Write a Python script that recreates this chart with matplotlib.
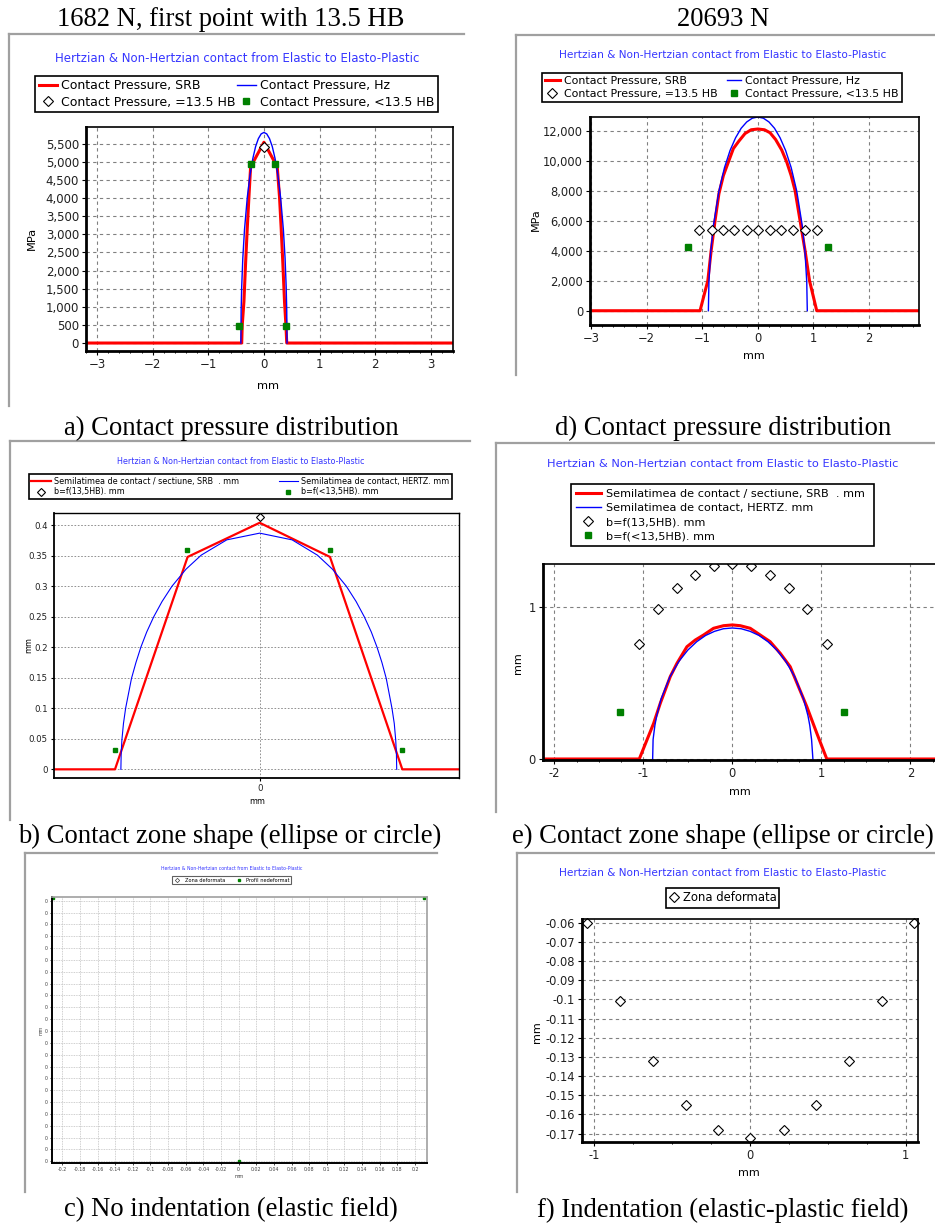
import numpy as np
import matplotlib.pyplot as plt
from matplotlib.lines import Line2D
from matplotlib.ticker import FuncFormatter, MultipleLocator, FixedLocator

plt.rcParams['font.family'] = ['DejaVu Sans']

# ---- a) 1682 N, contact pressure ----
a_srb_x = [-3.2, -0.40, -0.39, -0.36, -0.33, -0.30, -0.27, -0.24, -0.21, 0.0,
           0.21, 0.24, 0.28, 0.31, 0.34, 0.37, 0.395, 0.41, 3.4]
a_srb_y = [0, 0, 500, 1140, 2200, 3160, 4030, 4850, 4940, 5540,
           4940, 4850, 4030, 3160, 2200, 1140, 500, 0, 0]
a_hz_x = [-0.415, -0.41, -0.40, -0.38, -0.35, -0.30, -0.25, -0.20, -0.15, -0.10, -0.05, 0.0,
          0.05, 0.10, 0.15, 0.20, 0.25, 0.30, 0.35, 0.38, 0.40, 0.41, 0.415]
a_hz_y = [0, 900, 1550, 2340, 3120, 4010, 4640, 5090, 5420, 5640, 5770, 5810,
          5770, 5640, 5420, 5090, 4640, 4010, 3120, 2340, 1550, 900, 0]
a_eq_x = [0.0]
a_eq_y = [5400]
a_lt_x = [-0.44, -0.24, 0.20, 0.40]
a_lt_y = [460, 4950, 4950, 460]

# ---- d) 20693 N, contact pressure ----
d_srb_x = [-3.02, -1.04, -0.97, -0.90, -0.84, -0.77, -0.70, -0.62, -0.52, -0.44, -0.34, -0.23,
           -0.12, 0.0, 0.12, 0.22, 0.32, 0.43, 0.52, 0.60, 0.67, 0.76, 0.85, 0.93, 1.06, 2.9]
d_srb_y = [0, 0, 1000, 2000, 4000, 6000, 7800, 9000, 10000, 10800, 11300, 11800,
           12050, 12100, 12050, 11850, 11400, 10700, 9900, 9000, 8000, 6000, 4000, 2000, 0, 0]
d_hz_x = [-0.89, -0.88, -0.85, -0.80, -0.70, -0.60, -0.50, -0.40, -0.30, -0.20, -0.10, 0.0,
          0.10, 0.20, 0.30, 0.40, 0.50, 0.60, 0.70, 0.80, 0.85, 0.88, 0.89]
d_hz_y = [0, 1930, 3820, 5650, 7970, 9530, 10670, 11520, 12150, 12570, 12820, 12900,
          12820, 12570, 12150, 11520, 10670, 9530, 7970, 5650, 3820, 1930, 0]
d_eq_x = [-1.05, -0.83, -0.63, -0.42, -0.20, 0.0, 0.22, 0.42, 0.64, 0.85, 1.06]
d_eq_y = [5400] * 11
d_lt_x = [-1.26, 1.26]
d_lt_y = [4230, 4230]

# ---- b) 1682 N, contact semi-width along the roller ----
b_srb_x = [-1.433, -1.008, -0.502, 0.0, 0.49, 0.994, 1.389]
b_srb_y = [0, 0, 0.348, 0.404, 0.348, 0, 0]
b_hz_x = [-0.967, -0.965, -0.960, -0.949, -0.934, -0.893, -0.862, -0.828, -0.787, -0.738,
          -0.680, -0.611, -0.513, -0.407, -0.229, 0.0,
          0.226, 0.402, 0.507, 0.604, 0.672, 0.729, 0.778, 0.818, 0.852, 0.882,
          0.922, 0.938, 0.948, 0.953, 0.955]
b_hz_y = [0, 0.025, 0.048, 0.075, 0.100, 0.149, 0.175, 0.200, 0.225, 0.250,
          0.275, 0.300, 0.328, 0.351, 0.376, 0.387,
          0.376, 0.351, 0.328, 0.300, 0.275, 0.250, 0.225, 0.200, 0.175, 0.149,
          0.100, 0.075, 0.048, 0.025, 0]
b_eq_x = [0.0]
b_eq_y = [0.413]
b_lt_x = [-1.008, -0.507, 0.49, 0.994]
b_lt_y = [0.0316, 0.3586, 0.3586, 0.0316]

# ---- e) 20693 N, contact semi-width ----
e_srb_x = [-2.13, -1.045, -0.884, -0.809, -0.697, -0.622, -0.510, -0.416, -0.323, -0.211, -0.099,
           0.0, 0.089, 0.201, 0.313, 0.425, 0.538, 0.650, 0.743, 0.837, 0.949, 1.061, 2.45]
e_srb_y = [0, 0, 0.234, 0.366, 0.541, 0.628, 0.737, 0.781, 0.814, 0.858, 0.875,
           0.880, 0.875, 0.858, 0.814, 0.770, 0.694, 0.606, 0.475, 0.343, 0.169, 0, 0]
e_hz_x = [-0.895, -0.89, -0.87, -0.85, -0.80, -0.70, -0.60, -0.50, -0.40, -0.30, -0.20, -0.10, 0.0,
          0.10, 0.20, 0.30, 0.40, 0.50, 0.60, 0.70, 0.80, 0.85, 0.87, 0.89, 0.905]
e_hz_y = [0, 0.128, 0.220, 0.283, 0.394, 0.541, 0.641, 0.715, 0.770, 0.811, 0.838, 0.855, 0.860,
          0.855, 0.838, 0.811, 0.770, 0.715, 0.641, 0.541, 0.394, 0.283, 0.220, 0.128, 0]
e_eq_x = [-1.052, -0.836, -0.622, -0.416, -0.203, 0.0, 0.212, 0.425, 0.631, 0.844, 1.061]
e_eq_y = [0.755, 0.983, 1.125, 1.210, 1.267, 1.280, 1.267, 1.210, 1.125, 0.983, 0.755]
e_lt_x = [-1.258, 1.256]
e_lt_y = [0.311, 0.311]

# ---- c) 1682 N, no indentation (all depths round to 0) ----
c_prof_x = [-0.21, 0.0, 0.21]
c_prof_y = [22.2e-6, 0.0, 22.2e-6]
c_yticks = [i * 1e-6 for i in range(23)]
c_xticks = [round(-0.2 + 0.02 * i, 2) for i in range(21)]

# ---- f) 20693 N, deformed zone ----
f_x = [-1.045, -0.837, -0.623, -0.413, -0.2075, 0.0, 0.218, 0.426, 0.632, 0.848, 1.053]
f_y = [-0.060, -0.101, -0.132, -0.155, -0.168, -0.172, -0.168, -0.155, -0.132, -0.101, -0.060]

W, H = 935, 1224
fig = plt.figure(figsize=(W / 100, H / 100), dpi=100)

RED = '#ff0000'
BLUE = '#0000ff'
GREEN = '#008000'
TBLUE = '#3535ff'
SERIF = 'Liberation Serif'
CAP = 19.2


def box(x0, y0, x1, y1):
    return [x0 / W, 1 - y1 / H, (x1 - x0) / W, (y1 - y0) / H]


def ftext(x, y, s, **kw):
    kw.setdefault('ha', 'center')
    kw.setdefault('va', 'center')
    fig.text(x / W, 1 - y / H, s, **kw)


def frame(x0, x1, y0, y1):
    # grey window edge, top and left only
    fig.add_artist(Line2D([x0 / W, x1 / W], [1 - y0 / H] * 2, color='#a0a0a0', lw=1.6))
    fig.add_artist(Line2D([x0 / W] * 2, [1 - y0 / H, 1 - y1 / H], color='#a0a0a0', lw=1.6))


def style(ax, size, thick=2.0, thin=1.2, tick_len=3):
    for s in ['left', 'bottom']:
        ax.spines[s].set_linewidth(thick)
    for s in ['top', 'right']:
        ax.spines[s].set_linewidth(thin)
    ax.tick_params(labelsize=size, labelcolor='#202020', direction='out',
                   length=tick_len, width=0.8, pad=2)
    ax.tick_params(which='minor', length=tick_len * 0.6, width=0.7, direction='out')
    ax.grid(True, which='major', color='#808080', lw=0.8, ls=(0, (3, 3)))
    ax.set_axisbelow(True)


def legend(ax, handles, b, ncol, size, **kw):
    leg = ax.legend(handles=handles, loc='center', bbox_to_anchor=box(*b),
                    bbox_transform=fig.transFigure, mode='expand', ncol=ncol,
                    fontsize=size, frameon=True, fancybox=False, edgecolor='black',
                    framealpha=1, borderaxespad=0, numpoints=1, **kw)
    leg.get_frame().set_linewidth(1.2)
    return leg


def comma(v, p):
    return f"{v:,.0f}"


def series(ax, srb, hz, eq, lt, lab, ms=5.5, sq=4):
    l1, = ax.plot(srb[0], srb[1], color=RED, lw=2.2, label=lab[0])
    l2, = ax.plot(hz[0], hz[1], color=BLUE, lw=1.0, label=lab[1])
    l3, = ax.plot(eq[0], eq[1], ls='none', marker='D', ms=ms, mfc='white', mec='black',
                  mew=0.8, label=lab[2])
    l4, = ax.plot(lt[0], lt[1], ls='none', marker='s', ms=sq, color=GREEN, mec=GREEN,
                  label=lab[3])
    return l1, l2, l3, l4


TITLE = 'Hertzian & Non-Hertzian contact from Elastic to Elasto-Plastic'
CP = ['Contact Pressure, SRB', 'Contact Pressure, Hz',
      'Contact Pressure, =13.5 HB', 'Contact Pressure, <13.5 HB']
SL = ['Semilatimea de contact / sectiune, SRB  . mm', 'Semilatimea de contact, HERTZ. mm',
      'b=f(13,5HB). mm', 'b=f(<13,5HB). mm']

# ================= panel a =================
frame(9, 464, 34, 406)
ftext(231, 19, '1682 N, first point with 13.5 HB', family=SERIF, fontsize=CAP)
ftext(237, 58, TITLE, color=TBLUE, fontsize=8.5)
ax = fig.add_axes(box(86, 127, 453, 351))
h = series(ax, (a_srb_x, a_srb_y), (a_hz_x, a_hz_y), (a_eq_x, a_eq_y), (a_lt_x, a_lt_y), CP)
ax.set_xlim(-3.2, 3.4)
ax.set_ylim(-220, 5960)
ax.xaxis.set_major_locator(MultipleLocator(1))
ax.xaxis.set_minor_locator(MultipleLocator(0.2))
ax.yaxis.set_major_locator(MultipleLocator(500))
ax.yaxis.set_major_formatter(FuncFormatter(comma))
style(ax, 8.5)
legend(ax, [h[0], h[2], h[1], h[3]], (35, 75, 438, 113), 2, 9.0,
       handlelength=1.45, handletextpad=0.35, columnspacing=1.0, labelspacing=0.25,
       borderpad=0.3)
ftext(32, 238, 'MPa', rotation=90, fontsize=8.2)
ftext(268, 386, 'mm', fontsize=8.2)
ftext(231, 428, 'a) Contact pressure distribution', family=SERIF, fontsize=CAP)

# ================= panel d =================
frame(516, 935, 35, 375)
ftext(723, 19, '20693 N', family=SERIF, fontsize=CAP)
ftext(723, 55, TITLE, color=TBLUE, fontsize=7.6)
ax = fig.add_axes(box(590, 117, 919, 325))
h = series(ax, (d_srb_x, d_srb_y), (d_hz_x, d_hz_y), (d_eq_x, d_eq_y), (d_lt_x, d_lt_y), CP)
ax.set_xlim(-3.02, 2.9)
ax.set_ylim(-950, 12900)
ax.xaxis.set_major_locator(MultipleLocator(1))
ax.xaxis.set_minor_locator(MultipleLocator(0.2))
ax.yaxis.set_major_locator(MultipleLocator(2000))
ax.yaxis.set_major_formatter(FuncFormatter(comma))
style(ax, 8.3)
legend(ax, [h[0], h[2], h[1], h[3]], (542, 70, 902, 105), 2, 7.9,
       handlelength=1.3, handletextpad=0.4, columnspacing=0.5, labelspacing=0.25,
       borderpad=0.3)
ftext(536, 220, 'MPa', rotation=90, fontsize=8)
ftext(754, 356, 'mm', fontsize=8)
ftext(723, 428, 'd) Contact pressure distribution', family=SERIF, fontsize=CAP)

# ================= panel b =================
frame(10, 470, 441, 820)
ftext(241, 462, TITLE, color=TBLUE, fontsize=5.75)
ax = fig.add_axes(box(54, 513, 459, 778))
h = series(ax, (b_srb_x, b_srb_y), (b_hz_x, b_hz_y), (b_eq_x, b_eq_y), (b_lt_x, b_lt_y), SL,
           ms=4.2, sq=3.2)
h[0].set_linewidth(1.6)
h[1].set_linewidth(0.8)
ax.set_xlim(-1.433, 1.389)
ax.set_ylim(-0.0142, 0.42)
ax.xaxis.set_major_locator(FixedLocator([0]))
ax.yaxis.set_major_locator(MultipleLocator(0.05))
ax.yaxis.set_major_formatter(FuncFormatter(lambda v, p: f"{v:g}" if abs(v) > 1e-9 else "0"))
style(ax, 6.2, thick=1.3, thin=1.0, tick_len=2.5)
ax.grid(True, which='major', color='#808080', lw=0.6, ls=(0, (2, 2)))
legend(ax, [h[0], h[2], h[1], h[3]], (29, 473, 452, 500), 2, 5.8,
       handlelength=2.4, handletextpad=0.4, columnspacing=0.4, labelspacing=0.22,
       borderpad=0.3)
ftext(29, 645, 'mm', rotation=90, fontsize=5.8)
ftext(257, 801, 'mm', fontsize=5.8)
ftext(230, 836, 'b) Contact zone shape (ellipse or circle)', family=SERIF, fontsize=CAP)

# ================= panel e =================
frame(496, 935, 443, 812)
ftext(723, 464, TITLE, color=TBLUE, fontsize=8.2)
ax = fig.add_axes(box(542.7, 564, 950, 760))
h = series(ax, (e_srb_x, e_srb_y), (e_hz_x, e_hz_y), (e_eq_x, e_eq_y), (e_lt_x, e_lt_y), SL)
ax.set_xlim(-2.13, 2.445)
ax.set_ylim(-0.0066, 1.28)
ax.xaxis.set_major_locator(MultipleLocator(1))
ax.xaxis.set_minor_locator(MultipleLocator(0.25))
ax.yaxis.set_major_locator(MultipleLocator(1))
ax.xaxis.set_major_formatter(FuncFormatter(lambda v, p: f"{v:.0f}"))
style(ax, 8.3)
legend(ax, list(h), (571, 480, 874, 550), 1, 8.1,
       handlelength=2.3, handletextpad=0.45, labelspacing=0.38, borderpad=0.4)
ftext(518, 663, 'mm', rotation=90, fontsize=8)
ftext(740, 792, 'mm', fontsize=8)
ftext(723, 836, 'e) Contact zone shape (ellipse or circle)', family=SERIF, fontsize=CAP)

# ================= panel c =================
frame(25, 437, 853, 1192)
ftext(232, 869, TITLE, color=TBLUE, fontsize=3.35)
ax = fig.add_axes(box(52, 896.7, 427, 1163.3))
p1, = ax.plot([], [], ls='none', marker='D', ms=2.2, mfc='white', mec='#404040', mew=0.5,
              label='Zona deformata')
p2, = ax.plot(c_prof_x, c_prof_y, ls='none', marker='s', ms=2.0, color=GREEN, mec=GREEN,
              label='Profil nedeformat', clip_on=False)
ax.set_xlim(-0.2117, 0.2136)
ax.set_ylim(-0.169e-6, 22.34e-6)
ax.xaxis.set_major_locator(FixedLocator(c_xticks))
ax.xaxis.set_major_formatter(FuncFormatter(lambda v, p: f"{v:g}" if abs(v) > 1e-9 else "0"))
ax.yaxis.set_major_locator(FixedLocator(c_yticks))
ax.yaxis.set_major_formatter(FuncFormatter(lambda v, p: f"{v:.0f}"))
for s in ['left', 'bottom']:
    ax.spines[s].set_linewidth(1.4)
for s in ['top', 'right']:
    ax.spines[s].set_linewidth(1.2)
    ax.spines[s].set_color('#a0a0a0')
ax.tick_params(labelsize=3.4, labelcolor='#404040', length=1.5, width=0.5, pad=1.5)
ax.grid(True, color='#c0c0c0', lw=0.6, ls=(0, (1, 1)))
ax.set_axisbelow(True)
leg = legend(ax, [p1, p2], (172, 876, 291, 884.3), 2, 3.6,
             handlelength=1.5, columnspacing=1.5, borderpad=0.25)
leg.get_frame().set_edgecolor('#606060')
leg.get_frame().set_linewidth(0.8)
ftext(41, 1030, 'mm', rotation=90, fontsize=3.4, color='#404040')
ftext(239, 1177, 'mm', fontsize=3.4, color='#404040')
ftext(231, 1210, 'c) No indentation (elastic field)', family=SERIF, fontsize=CAP)

# ================= panel f =================
frame(517, 935, 853, 1192)
ftext(723, 873, TITLE, color=TBLUE, fontsize=7.6)
ax = fig.add_axes(box(581.7, 919, 918.3, 1142.3))
q, = ax.plot(f_x, f_y, ls='none', marker='D', ms=5.5, mfc='white', mec='black', mew=0.8,
             label='Zona deformata', clip_on=False)
ax.set_xlim(-1.081, 1.08)
ax.set_ylim(-0.1745, -0.05807)
ax.xaxis.set_major_locator(MultipleLocator(1))
ax.xaxis.set_minor_locator(MultipleLocator(0.25))
ax.xaxis.set_major_formatter(FuncFormatter(lambda v, p: f"{v:.0f}"))
ax.yaxis.set_major_locator(FixedLocator([-0.06 - 0.01 * i for i in range(12)]))
ax.yaxis.set_major_formatter(FuncFormatter(lambda v, p: f"{round(v, 2):g}"))
style(ax, 8.3)
legend(ax, [q], (665.7, 888.3, 779, 907.3), 1, 8.4,
       handlelength=0.8, handletextpad=0.4, borderpad=0.3)
ftext(537, 1032, 'mm', rotation=90, fontsize=8)
ftext(749, 1173, 'mm', fontsize=8)
ftext(723, 1210, 'f) Indentation (elastic-plastic field)', family=SERIF, fontsize=CAP)

fig.savefig('out.png', dpi=100)
